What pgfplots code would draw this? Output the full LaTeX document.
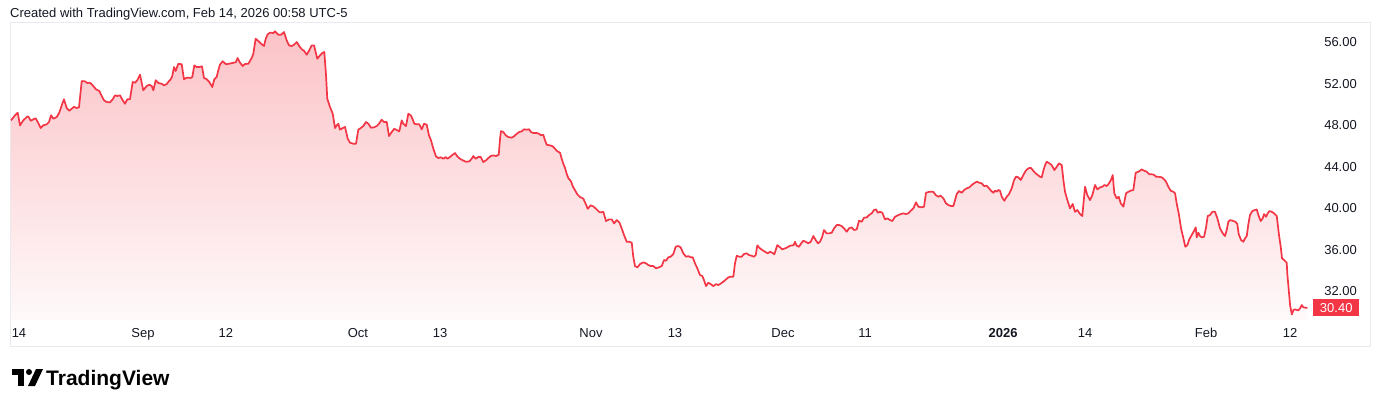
\documentclass[border=0pt]{standalone}
\usepackage{pgfplots}
\pgfplotsset{compat=1.18}
\usepackage{pgfplotstable}
\usepackage{fontspec}
\setmainfont{Liberation Sans}
\definecolor{tvred}{RGB}{242,54,69}
\definecolor{tvtext}{RGB}{19,23,34}
\definecolor{tvframe}{RGB}{232,234,240}

\pgfplotstableread{
x y
-0.79 48.45
-0.39 48.94
-0.13 49.19
0.10 47.97
0.42 48.45
0.76 48.77
0.91 48.84
1.15 48.41
1.41 48.55
1.64 48.65
1.90 48.19
2.13 47.71
2.39 47.97
2.72 48.07
2.95 48.29
3.15 48.94
3.37 48.61
3.71 48.77
3.96 49.19
4.20 49.90
4.42 50.48
4.69 49.64
4.95 49.38
5.18 49.57
5.41 49.76
5.67 49.64
5.90 49.71
6.17 52.24
6.49 52.21
6.72 52.05
6.98 52.08
7.25 51.83
7.57 51.44
7.90 51.28
8.13 50.80
8.36 50.38
8.62 50.22
8.95 50.19
9.21 50.48
9.44 50.86
9.67 50.80
9.93 50.86
10.20 50.38
10.42 50.05
10.65 50.48
10.91 50.48
11.18 52.15
11.41 52.08
11.63 52.32
11.90 52.85
12.22 51.35
12.56 51.76
12.81 51.89
13.05 51.76
13.21 51.35
13.44 52.32
13.70 52.05
14.03 51.98
14.26 51.83
14.52 51.95
14.68 52.15
14.92 52.41
15.07 52.72
15.24 53.59
15.41 53.21
15.66 53.91
16.00 53.85
16.22 52.41
16.49 52.57
16.88 52.54
17.04 52.64
17.24 53.75
17.47 53.59
17.73 53.59
17.99 53.66
18.19 52.54
18.46 52.41
18.71 52.15
19.01 51.66
19.20 52.41
19.44 52.64
19.60 53.28
19.76 53.82
20.03 54.15
20.35 53.86
20.68 53.91
20.97 53.98
21.31 54.05
21.50 54.46
21.73 54.01
22.00 53.69
22.22 53.88
22.55 53.91
22.88 54.46
23.04 54.88
23.27 56.32
23.53 56.10
23.80 55.84
24.09 55.62
24.26 56.32
24.45 56.75
24.68 56.90
25.01 56.87
25.17 57.03
25.50 56.70
25.76 56.70
26.06 56.96
26.32 56.16
26.55 55.68
26.81 55.61
27.04 55.74
27.31 56.00
27.56 55.61
27.80 55.30
28.02 55.16
28.29 54.78
28.54 55.20
28.78 55.68
29.01 55.68
29.33 54.39
29.60 54.72
29.86 54.97
30.02 55.04
30.19 52.79
30.31 50.54
30.58 49.74
30.85 49.09
31.07 47.71
31.24 47.97
31.40 48.13
31.56 47.55
31.83 47.71
32.06 47.81
32.32 46.68
32.55 46.30
32.87 46.20
33.14 46.20
33.36 47.55
33.60 47.71
33.85 47.90
34.12 48.29
34.35 48.13
34.61 47.74
34.91 47.78
35.17 47.90
35.40 48.13
35.66 48.51
35.89 48.29
36.16 48.29
36.38 46.94
36.65 47.33
36.90 47.64
37.20 47.49
37.39 47.39
37.63 48.45
37.79 48.13
38.05 47.90
38.28 49.09
38.52 48.94
38.71 48.55
38.87 48.13
39.11 48.07
39.36 48.07
39.60 47.58
39.82 48.13
40.09 48.03
40.31 47.01
40.51 46.53
40.74 45.72
41.00 44.98
41.23 44.82
41.49 44.89
41.72 44.75
41.96 44.92
42.11 44.75
42.38 44.92
42.65 45.14
42.87 45.30
43.10 44.98
43.36 44.75
43.63 44.60
43.95 44.46
44.28 44.50
44.51 44.75
44.67 45.01
44.91 44.75
45.16 44.92
45.40 44.92
45.65 44.43
45.92 44.60
46.15 44.82
46.38 45.01
46.64 45.08
46.90 45.01
47.17 45.14
47.30 46.68
47.39 47.42
47.62 47.33
47.86 47.01
48.11 46.84
48.45 46.78
48.67 46.91
48.94 47.16
49.19 47.33
49.43 47.39
49.66 47.59
49.92 47.55
50.15 47.59
50.34 47.33
50.57 47.23
50.90 47.23
51.13 47.16
51.33 47.01
51.55 47.07
51.72 46.53
51.89 46.10
52.21 46.04
52.48 45.95
52.70 45.72
52.93 45.47
53.20 45.33
53.36 44.75
53.52 44.27
53.69 43.86
53.85 43.31
54.01 42.89
54.28 42.57
54.44 42.12
54.67 41.71
54.90 41.32
55.16 41.06
55.49 40.90
55.72 40.41
55.92 39.93
56.21 40.26
56.47 40.16
56.74 39.93
57.06 39.61
57.23 39.59
57.45 39.64
57.72 38.75
58.04 38.91
58.28 38.91
58.51 38.52
58.77 38.84
59.03 38.62
59.26 38.04
59.49 37.40
59.75 36.75
60.01 36.75
60.25 36.66
60.40 35.31
60.57 34.41
60.80 34.28
61.06 34.60
61.39 34.77
61.65 34.67
61.88 34.51
62.11 34.41
62.37 34.41
62.64 34.19
62.93 34.29
63.20 34.41
63.42 34.99
63.62 34.92
63.84 35.25
64.08 35.31
64.34 35.57
64.57 36.27
64.83 36.34
65.06 36.21
65.32 35.63
65.59 35.31
65.81 35.37
66.05 35.25
66.24 35.25
66.47 34.67
66.70 34.19
66.96 33.54
67.19 33.45
67.38 32.99
67.55 32.48
67.78 32.80
68.01 32.67
68.27 32.48
68.53 32.67
68.76 32.58
69.03 32.74
69.25 32.90
69.52 33.13
69.75 33.32
69.98 33.38
70.24 33.38
70.40 34.67
70.57 35.40
70.83 35.31
71.06 35.31
71.29 35.57
71.55 35.63
71.78 35.47
72.04 35.40
72.27 35.31
72.44 35.47
72.60 36.40
72.86 36.11
73.09 35.95
73.35 35.79
73.62 35.63
73.84 35.79
74.07 35.69
74.27 35.54
74.56 36.43
74.83 36.21
75.05 36.02
75.32 36.11
75.54 36.21
75.81 36.37
76.04 36.40
76.17 36.43
76.30 36.75
76.47 36.37
76.70 36.27
76.86 36.53
77.12 36.85
77.35 36.75
77.61 36.60
77.85 36.75
78.10 37.30
78.34 36.91
78.56 36.60
78.76 36.75
78.96 37.18
79.15 37.88
79.42 37.56
79.67 37.56
79.91 37.62
80.14 38.04
80.40 38.36
80.66 38.36
80.89 38.26
81.12 38.04
81.39 37.72
81.61 38.04
81.88 38.14
82.10 37.88
82.37 37.95
82.60 38.78
82.86 38.68
83.09 39.07
83.35 39.10
83.58 39.32
83.84 39.49
84.07 39.81
84.27 39.87
84.43 39.55
84.66 39.64
84.89 39.55
85.15 38.91
85.38 39.01
85.64 38.84
85.87 38.75
86.14 39.16
86.46 39.32
86.70 39.42
86.95 39.49
87.22 39.42
87.44 39.49
87.68 39.74
87.94 39.97
88.20 40.55
88.43 40.13
88.76 40.07
88.99 40.13
89.18 41.47
89.51 41.57
89.90 41.57
90.14 41.25
90.39 41.09
90.63 41.19
90.89 40.93
91.15 40.45
91.38 40.29
91.64 40.19
91.87 40.19
92.04 40.77
92.20 41.35
92.43 41.64
92.69 41.47
92.92 41.73
93.18 41.90
93.44 41.99
93.68 42.22
93.90 42.38
94.17 42.54
94.42 42.44
94.66 42.38
94.89 42.12
95.15 42.15
95.38 41.90
95.58 41.67
95.80 41.47
95.97 41.67
96.14 41.57
96.29 41.74
96.46 41.67
96.63 41.09
96.88 40.70
97.12 41.09
97.35 41.35
97.61 41.90
97.84 42.70
98.03 43.02
98.26 42.96
98.50 42.70
98.75 43.18
98.99 43.60
99.24 43.83
99.48 43.88
99.68 43.66
99.90 43.40
100.17 43.18
100.39 43.02
100.56 42.96
100.72 43.60
100.89 44.14
101.05 44.46
101.31 44.31
101.54 44.14
101.80 43.66
102.04 43.98
102.26 44.31
102.53 44.14
102.69 42.70
102.85 41.57
103.08 40.77
103.34 39.97
103.61 40.39
103.83 39.64
104.06 39.81
104.33 39.42
104.55 39.23
104.65 40.29
104.82 42.05
105.04 41.25
105.31 40.77
105.54 41.25
105.80 42.22
106.03 41.80
106.29 41.99
106.52 42.05
106.72 42.22
106.95 42.12
107.18 42.38
107.40 42.77
107.54 43.18
107.70 41.42
107.93 40.93
108.13 41.09
108.33 40.45
108.59 40.13
108.85 41.42
109.08 41.57
109.31 41.67
109.57 41.74
109.80 43.40
110.06 43.50
110.23 43.60
110.39 43.73
110.62 43.60
110.89 43.50
111.14 43.25
111.38 43.25
111.60 43.21
111.80 43.02
112.03 43.02
112.36 42.96
112.59 42.77
112.78 42.54
113.01 42.06
113.24 41.67
113.50 41.57
113.67 41.42
113.83 40.45
114.06 39.33
114.26 38.04
114.49 37.08
114.68 36.27
114.88 36.43
115.07 36.98
115.31 37.40
115.54 37.81
115.70 38.14
115.80 37.18
115.96 37.62
116.13 37.30
116.29 37.18
116.52 37.23
116.72 38.14
116.88 39.23
117.11 39.33
117.34 39.64
117.60 39.64
117.83 39.01
118.09 38.04
118.36 37.56
118.58 37.30
118.75 37.88
118.91 38.68
119.08 38.84
119.34 38.77
119.60 38.68
119.79 38.46
119.93 37.49
120.16 36.91
120.38 36.75
120.55 37.08
120.72 37.30
120.88 38.46
121.04 39.33
121.27 39.71
121.53 39.81
121.70 39.87
121.86 39.33
122.09 38.75
122.29 39.01
122.42 39.42
122.62 39.16
122.78 39.49
122.94 39.71
123.18 39.64
123.40 39.49
123.67 39.23
123.89 37.40
124.06 36.27
124.19 35.15
124.39 34.99
124.65 34.73
124.71 33.64
124.85 32.10
124.98 30.65
125.15 29.75
125.31 30.17
125.47 30.24
125.64 30.17
125.80 30.14
125.96 30.33
126.13 30.65
126.29 30.43
126.53 30.39
126.69 30.40
}\pricedata

\begin{document}
\begin{tikzpicture}[x=1pt,y=1pt]
\useasboundingbox (0,0) rectangle (1380,-407);
\node[anchor=base west, inner sep=0, font=\fontsize{13}{15}\selectfont, text=tvtext] at (10,-17) {Created with TradingView.com, Feb 14, 2026 00:58 UTC-5};
\draw[tvframe, line width=1pt] (10,-22) rectangle (1370,-346);
\begin{axis}[
  at={(10pt,-320pt)}, anchor=south west,
  scale only axis, width=1300pt, height=298pt,
  xmin=-0.885, xmax=126.94, ymin=29.21, ymax=57.93,
  axis line style={draw=none}, tick style={draw=none}, major tick length=0pt,
  xtick={0,12.19,20.35,33.33,41.40,56.24,64.50,75.12,83.19,96.76,104.82,116.72,124.98},
  xticklabels={14,Sep,12,Oct,13,Nov,13,Dec,11,\textbf{2026},14,Feb,12},
  xticklabel style={anchor=base, yshift=-17.5pt, font=\fontsize{13}{15}\selectfont, text=tvtext},
  ytick={32,36,40,44,48,52,56},
  yticklabels={32.00,36.00,40.00,44.00,48.00,52.00,56.00},
  yticklabel pos=right,
  yticklabel style={anchor=east, inner sep=0pt, xshift=47pt, font=\fontsize{13}{15}\selectfont, text=tvtext},
]
\addplot[draw=none, top color=tvred!30!white, bottom color=tvred!3!white] table {\pricedata} -- (axis cs:126.69,29.21) -- (axis cs:-0.79,29.21) -- cycle;
\addplot[tvred, line width=1.7pt, line join=round] table {\pricedata};
\coordinate (last) at (axis cs:126.94,30.40);
\end{axis}
\node[anchor=west, xshift=3pt, fill=tvred, text=white, inner sep=0pt, minimum width=46pt, minimum height=17pt, font=\fontsize{13}{15}\selectfont] at (last) {30.40};
% logo
\fill[black] (12,-369) rectangle (24,-375);
\fill[black] (18,-369) rectangle (24,-386);
\fill[black] (29,-372) circle (3);
\fill[black] (36,-369) -- (43,-369) -- (35,-386) -- (28,-386) -- cycle;
\node[anchor=base west, inner sep=0, font=\fontsize{21}{24}\selectfont\bfseries, text=black] at (46,-385) {TradingView};
\end{tikzpicture}
\end{document}
